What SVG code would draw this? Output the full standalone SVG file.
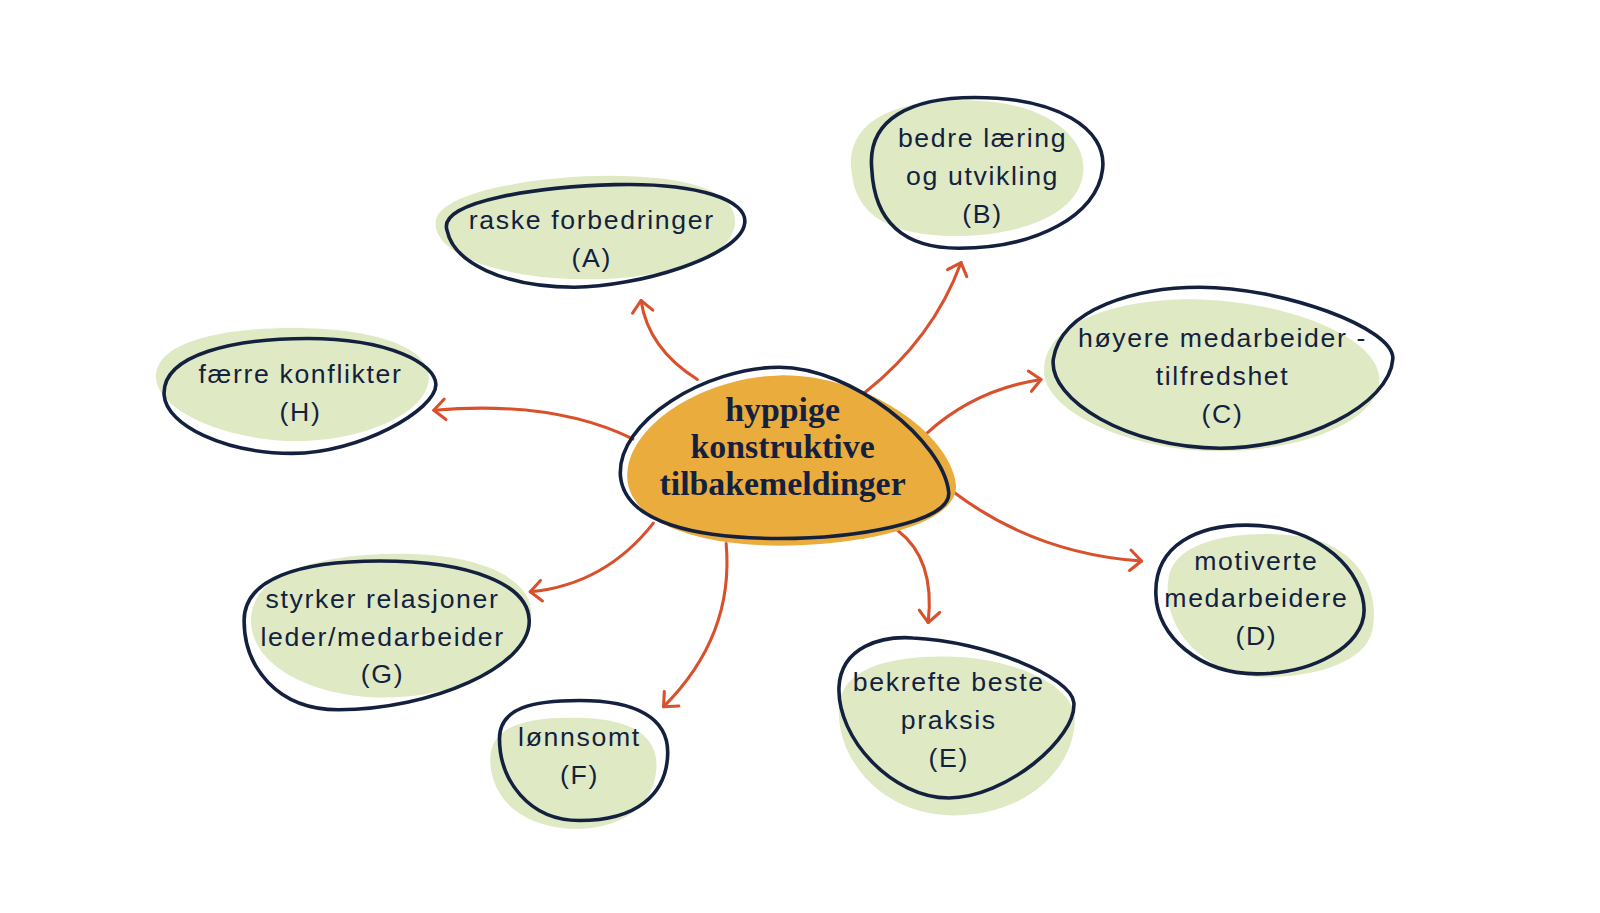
<svg xmlns="http://www.w3.org/2000/svg" width="1600" height="913" viewBox="0 0 1600 913">
<style>
.bg{fill:#DFEAC5;stroke:none}
.ol{fill:none;stroke:#13213F;stroke-width:3.5;stroke-linejoin:round}
.lbl{font-family:"Liberation Sans","DejaVu Sans",sans-serif;font-size:26px;fill:#13213F;text-anchor:middle;letter-spacing:1.6px}
.ctr{font-family:"Liberation Serif","DejaVu Serif",serif;font-weight:bold;font-size:33px;fill:#13213F;text-anchor:middle}
.arr{fill:none;stroke:#D9512C;stroke-width:3;stroke-linecap:round}
</style>
<defs>
<marker id="ah" markerUnits="userSpaceOnUse" markerWidth="30" markerHeight="30" viewBox="-15 -15 30 30" refX="0" refY="0" orient="auto">
<path d="M-11,-10 L0,0 L-11,10" fill="none" stroke="#D9512C" stroke-width="3" stroke-linecap="round" stroke-linejoin="round"/>
</marker>
</defs>
<rect width="1600" height="913" fill="#FFFFFF"/>
<g transform="scale(1.02564)">
<g id="connectors">
<path class="arr" marker-end="url(#ah)" d="M680,370 Q632,340 625,293"/>
<path class="arr" marker-end="url(#ah)" d="M843,383 Q910,330 937,256"/>
<path class="arr" marker-end="url(#ah)" d="M903,423 Q950,380 1015,370"/>
<path class="arr" marker-end="url(#ah)" d="M930,480 Q1010,540 1113,547"/>
<path class="arr" marker-end="url(#ah)" d="M875,517 Q912,545 905,607"/>
<path class="arr" marker-end="url(#ah)" d="M708,530 Q716,620 647,689"/>
<path class="arr" marker-end="url(#ah)" d="M637,510 Q590,570 517,577"/>
<path class="arr" marker-end="url(#ah)" d="M617,428 Q540,390 423,400"/>
</g>
<g id="center">
<path d="M612,470 C605,420 680,368 760,366 C840,364 925,420 932,472 C936,512 840,532 760,532 C680,532 618,510 612,470 Z" fill="#EBAC3E"/>
<path class="ol" d="M605,465 C600,410 690,358 760,358 C830,358 920,430 925,480 C928,510 830,525 760,525 C680,525 610,510 605,465 Z"/>
<text class="ctr" x="763" y="410">hyppige</text>
<text class="ctr" x="763" y="447">konstruktive</text>
<text class="ctr" x="763" y="483">tilbakemeldinger</text>
</g>
<g id="node-a">
<path class="bg" d="M425,215 C430,185 540,168 620,172 C690,175 725,195 715,225 C705,260 620,275 560,272 C480,270 420,245 425,215 Z"/>
<path class="ol" d="M436,225 C425,195 530,182 600,180 C680,178 730,195 726,218 C722,250 620,280 560,280 C490,280 442,255 436,225 Z"/>
<text class="lbl" x="577" y="223">raske forbedringer</text>
<text class="lbl" x="577" y="260">(A)</text>
</g>
<g id="node-b">
<path class="bg" d="M830,165 C825,110 890,95 950,98 C1020,100 1065,135 1055,175 C1045,215 980,232 925,230 C860,228 833,205 830,165 Z"/>
<path class="ol" d="M850,165 C845,115 890,95 950,95 C1030,95 1080,125 1075,165 C1070,210 1010,242 935,242 C870,242 852,205 850,165 Z"/>
<text class="lbl" x="958" y="143">bedre læring</text>
<text class="lbl" x="958" y="180">og utvikling</text>
<text class="lbl" x="958" y="217">(B)</text>
</g>
<g id="node-c">
<path class="bg" d="M1018,360 C1020,310 1100,290 1170,292 C1260,295 1345,330 1345,370 C1345,410 1270,440 1190,440 C1100,440 1015,400 1018,360 Z"/>
<path class="ol" d="M1027,350 C1035,300 1110,280 1170,280 C1250,280 1360,320 1358,350 C1355,395 1270,437 1190,437 C1100,437 1022,390 1027,350 Z"/>
<text class="lbl" x="1192" y="338">høyere medarbeider -</text>
<text class="lbl" x="1192" y="375">tilfredshet</text>
<text class="lbl" x="1192" y="412">(C)</text>
</g>
<g id="node-d">
<path class="bg" d="M1140,560 C1150,520 1230,515 1280,525 C1330,540 1345,580 1338,615 C1330,650 1270,662 1225,660 C1170,655 1130,610 1140,560 Z"/>
<path class="ol" d="M1127,580 C1125,530 1170,512 1215,512 C1290,512 1330,560 1330,595 C1330,630 1280,657 1225,657 C1170,657 1128,620 1127,580 Z"/>
<text class="lbl" x="1225" y="556">motiverte</text>
<text class="lbl" x="1225" y="592">medarbeidere</text>
<text class="lbl" x="1225" y="629">(D)</text>
</g>
<g id="node-e">
<path class="bg" d="M818,690 C820,650 870,640 920,640 C990,640 1048,670 1048,700 C1048,750 1000,795 930,795 C860,795 815,740 818,690 Z"/>
<path class="ol" d="M818,670 C820,630 860,620 890,622 C960,625 1045,660 1047,685 C1050,720 980,778 925,778 C870,778 816,720 818,670 Z"/>
<text class="lbl" x="925" y="674">bekrefte beste</text>
<text class="lbl" x="925" y="711">praksis</text>
<text class="lbl" x="925" y="748">(E)</text>
</g>
<g id="node-f">
<path class="bg" d="M478,740 C478,705 520,698 570,700 C620,702 642,720 640,750 C637,790 600,810 555,808 C510,805 478,780 478,740 Z"/>
<path class="ol" d="M487,720 C487,690 520,683 565,683 C620,683 652,700 651,735 C650,775 620,800 565,800 C515,800 487,760 487,720 Z"/>
<text class="lbl" x="565" y="727">lønnsomt</text>
<text class="lbl" x="565" y="764">(F)</text>
</g>
<g id="node-g">
<path class="bg" d="M245,600 C250,555 320,540 390,540 C470,540 520,565 518,600 C516,645 450,680 375,680 C300,680 240,645 245,600 Z"/>
<path class="ol" d="M238,605 C238,565 290,547 370,547 C460,547 515,570 516,605 C517,650 420,692 330,692 C270,692 238,650 238,605 Z"/>
<text class="lbl" x="373" y="593">styrker relasjoner</text>
<text class="lbl" x="373" y="630">leder/medarbeider</text>
<text class="lbl" x="373" y="666">(G)</text>
</g>
<g id="node-h">
<path class="bg" d="M152,365 C155,330 230,318 300,320 C370,322 420,340 418,370 C415,405 350,430 290,430 C220,430 150,400 152,365 Z"/>
<path class="ol" d="M160,385 C158,345 230,330 300,330 C380,330 425,355 425,375 C425,400 350,442 285,442 C220,442 162,415 160,385 Z"/>
<text class="lbl" x="293" y="373">færre konflikter</text>
<text class="lbl" x="293" y="410">(H)</text>
</g>
</g>
</svg>
